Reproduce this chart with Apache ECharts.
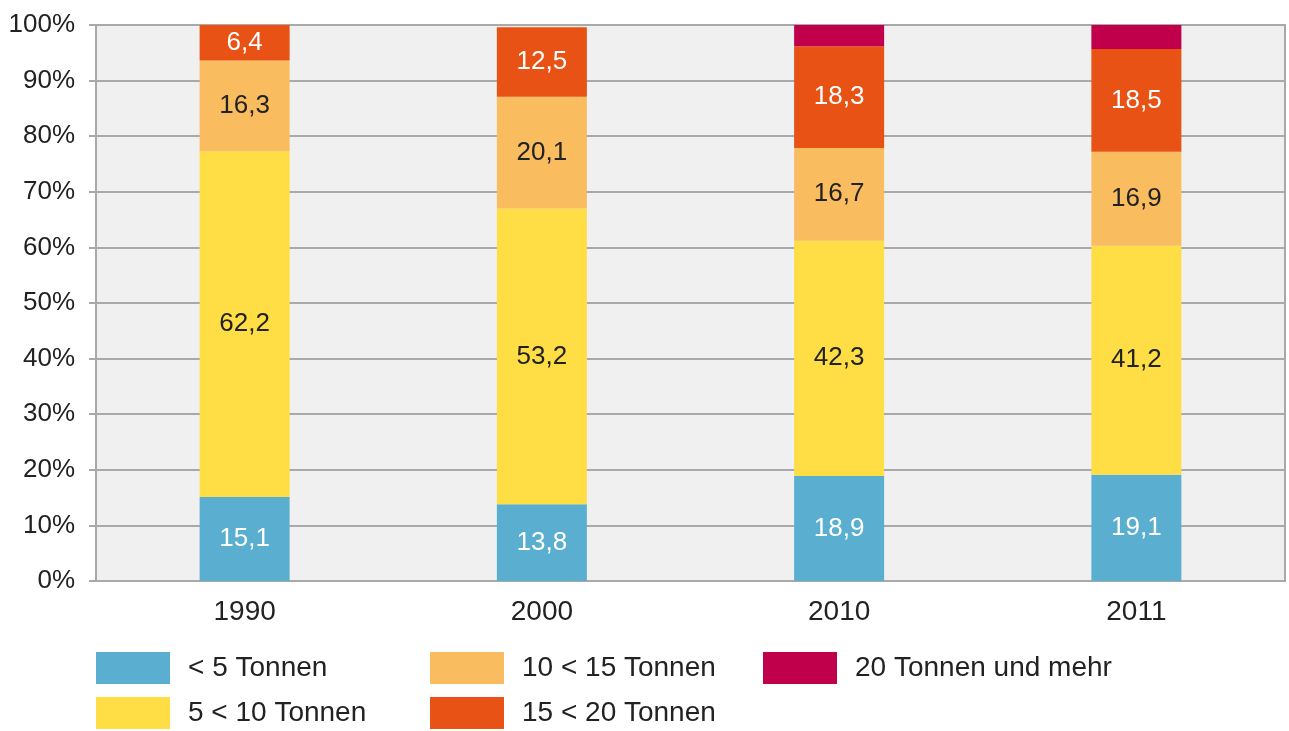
<!DOCTYPE html>
<html>
<head>
<meta charset="utf-8">
<script src="https://cdn.jsdelivr.net/npm/echarts@6/dist/echarts.min.js"></script>
<style>
  html, body { margin: 0; padding: 0; background: #fff; }
  #mychart { width: 1289px; height: 731px; }
</style>
</head>
<body>
<div id="mychart"></div>
<script>
// categories and values (percent shares)
var years = ['1990', '2000', '2010', '2011'];
var seriesNames = ['< 5 Tonnen', '5 < 10 Tonnen', '10 < 15 Tonnen', '15 < 20 Tonnen', '20 Tonnen und mehr'];
var under5 = [15.1, 13.8, 18.9, 19.1];
var from5to10 = [62.2, 53.2, 42.3, 41.2];
var from10to15 = [16.3, 20.1, 16.7, 16.9];
var from15to20 = [6.4, 12.5, 18.3, 18.5];
var over20 = [0, 0, 3.8, 4.3];
var yTicks = [0, 10, 20, 30, 40, 50, 60, 70, 80, 90, 100];

var colors = ['#5aafd0', '#fedd45', '#f9bc5f', '#e85215', '#c0004a'];
var labelColors = ['#ffffff', '#222222', '#222222', '#ffffff', null];
var fontName = '"Liberation Sans", Arial, sans-serif';

function makeSeries(name, data, idx) {
    return {
        name: name,
        type: 'bar',
        stack: 'total',
        barWidth: 90,
        data: data,
        itemStyle: { color: colors[idx] },
        label: {
            show: labelColors[idx] != null,
            position: 'inside',
            color: labelColors[idx] || '#fff',
            fontFamily: fontName,
            fontSize: 26,
            formatter: function (p) {
                return p.value > 0 ? String(p.value.toFixed(1)).replace('.', ',') : '';
            }
        },
        emphasis: { disabled: true }
    };
}

var allData = [under5, from5to10, from10to15, from15to20, over20];

// legend slots: [left, top] for every series, 3 columns x 2 rows
var legendPos = [[96, 652], [96, 697], [430, 652], [430, 697], [763, 652]];
var legends = seriesNames.map(function (n, i) {
    return {
        data: [n],
        left: legendPos[i][0],
        top: legendPos[i][1],
        padding: 0,
        itemWidth: 74,
        itemHeight: 32,
        icon: 'rect',
        selectedMode: false,
        textStyle: { fontFamily: fontName, fontSize: 28, color: '#222', padding: [0, 0, 0, 13] }
    };
});

var myChart = echarts.init(document.getElementById('mychart'));
var option = {
    animation: false,
    backgroundColor: '#ffffff',
    grid: {
        left: 96,
        right: 4,
        top: 25,
        bottom: 150,
        outerBoundsMode: 'none',
        show: true,
        backgroundColor: '#eff0ef',
        borderColor: '#a9a9a9',
        borderWidth: 2
    },
    legend: legends,
    xAxis: {
        type: 'category',
        data: years,
        axisTick: { show: false },
        axisLine: { lineStyle: { color: '#a9a9a9', width: 2 } },
        axisLabel: { fontFamily: fontName, fontSize: 28, color: '#222', margin: 17 }
    },
    yAxis: {
        type: 'value',
        min: yTicks[0],
        max: yTicks[yTicks.length - 1],
        interval: 10,
        axisLine: { show: true, lineStyle: { color: '#a9a9a9', width: 2 } },
        axisTick: { show: true, length: 7, lineStyle: { color: '#a9a9a9', width: 2 } },
        splitLine: { lineStyle: { color: '#a9a9a9', width: 2 } },
        axisLabel: {
            fontFamily: fontName, fontSize: 26, color: '#222', margin: 21,
            formatter: function (v) { return v + '%'; }
        }
    },
    series: seriesNames.map(function (n, i) { return makeSeries(n, allData[i], i); })
};
myChart.setOption(option);
</script>
</body>
</html>
